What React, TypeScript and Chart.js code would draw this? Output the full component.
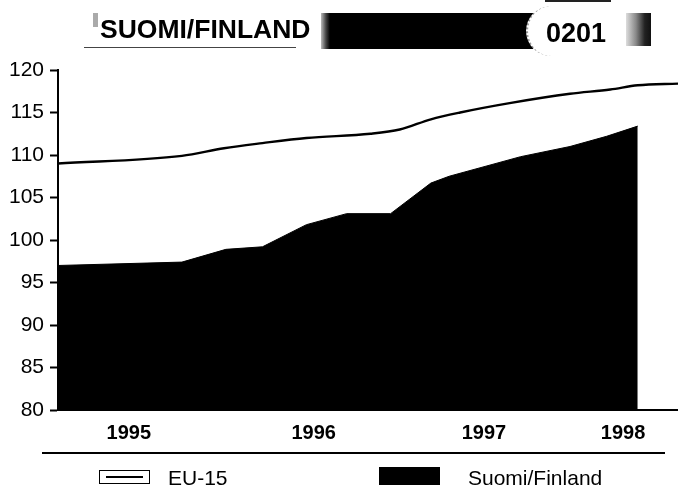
import React, { useEffect, useRef } from "react";
import { Chart, registerables } from "chart.js";

Chart.register(...registerables);

// ---- Data ----
const TITLE = "SUOMI/FINLAND";
const CODE = "0201";
const YEAR_LABELS = ["1995", "1996", "1997", "1998"];
const YEAR_LABEL_POS = [1995.47, 1996.48, 1997.41, 1998.17];
const X_MIN = 1995.083;
const X_MAX = 1998.47;
const Y_MIN = 80;
const Y_MAX = 120;
const Y_STEP = 5;

const FIN_T = [1995.08, 1995.76, 1996.0, 1996.2, 1996.44, 1996.66, 1996.9, 1997.12, 1997.22, 1997.61, 1997.88, 1998.08, 1998.25];
const FIN_V = [97.0, 97.4, 98.9, 99.2, 101.8, 103.1, 103.1, 106.7, 107.5, 109.8, 111.0, 112.2, 113.4];

const EU_T = [1995.08, 1995.76, 1995.99, 1996.2, 1996.44, 1996.79, 1996.95, 1997.12, 1997.28, 1997.55, 1997.88, 1998.1, 1998.25, 1998.47];
const EU_V = [109.0, 109.9, 110.8, 111.4, 112.0, 112.5, 113.0, 114.2, 115.0, 116.1, 117.2, 117.7, 118.2, 118.4];

const SERIES_NAMES = ["EU-15", "Suomi/Finland"];

const FONT = "'Liberation Sans', Arial, Helvetica, sans-serif";

export default function App() {
  const canvasRef = useRef<HTMLCanvasElement | null>(null);

  useEffect(() => {
    document.body.style.margin = "0";
    const canvas = canvasRef.current;
    if (!canvas) return;
    const chart = new Chart(canvas, {
      type: "line",
      data: {
        datasets: [
          {
            label: SERIES_NAMES[0],
            data: EU_T.map((t, i) => ({ x: t, y: EU_V[i] })),
            borderColor: "#000",
            borderWidth: 2.4,
            fill: false,
            pointRadius: 0,
            cubicInterpolationMode: "monotone",
          },
          {
            label: SERIES_NAMES[1],
            data: FIN_T.map((t, i) => ({ x: t, y: FIN_V[i] })),
            borderColor: "#000",
            backgroundColor: "#000",
            borderWidth: 1,
            fill: "start",
            pointRadius: 0,
            tension: 0,
          },
        ],
      },
      options: {
        responsive: false,
        animation: false,
        devicePixelRatio: 1,
        layout: { padding: { top: 70, right: 0, bottom: 43, left: 0 } },
        plugins: {
          legend: { display: false },
          title: { display: false },
          tooltip: { enabled: false },
        },
        scales: {
          x: {
            type: "linear",
            min: X_MIN,
            max: X_MAX,
            afterFit: (scale: any) => {
              scale.height = 40;
            },
            afterBuildTicks: (scale: any) => {
              scale.ticks = YEAR_LABEL_POS.map((v) => ({ value: v }));
            },
            grid: { display: false, drawTicks: false },
            border: { display: true, color: "#000", width: 2 },
            ticks: {
              autoSkip: false,
              maxRotation: 0,
              padding: 11,
              color: "#000",
              font: { family: FONT, size: 20, weight: "bold" },
              callback: (_v: any, i: number) => YEAR_LABELS[i],
            },
          },
          y: {
            min: Y_MIN,
            max: Y_MAX,
            afterFit: (scale: any) => {
              scale.width = 58;
            },
            grid: {
              display: true,
              drawOnChartArea: false,
              drawTicks: true,
              tickLength: 8,
              tickWidth: 2,
              tickColor: "#000",
            },
            border: { display: true, color: "#000", width: 2 },
            ticks: {
              stepSize: Y_STEP,
              padding: 6,
              color: "#000",
              font: { family: FONT, size: 21 },
            },
          },
        },
      },
    });
    return () => chart.destroy();
  }, []);

  const abs = (s: React.CSSProperties): React.CSSProperties => ({ position: "absolute", ...s });

  return (
    <div style={{ position: "relative", width: 678, height: 493, overflow: "hidden", background: "#fff", fontFamily: FONT }}>
      <canvas ref={canvasRef} width={678} height={493} style={abs({ left: 0, top: 0, width: 678, height: 493 })} />
      {/* header */}
      <div style={abs({ left: 93, top: 13, width: 5, height: 14, background: "#aaa" })} />
      <div style={abs({ left: 84, top: 47, width: 212, height: 1, background: "#444" })} />
      <div style={abs({ left: 100, top: 16, fontSize: 26.5, lineHeight: "26.5px", fontWeight: "bold", color: "#000", whiteSpace: "nowrap" })}>{TITLE}</div>
      <div style={abs({ left: 321, top: 13, width: 214, height: 36, background: "linear-gradient(to right, #bbb 0px, #444 5px, #000 9px)" })} />
      <div style={abs({ left: 526, top: 6, width: 60, height: 50, background: "#fff", borderRadius: "25px 0 0 25px", borderLeft: "2px dotted #999", boxSizing: "border-box" })} />
      <div style={abs({ left: 545, top: 0, width: 66, height: 2, background: "#222" })} />
      <div style={abs({ left: 546, top: 20, fontSize: 27, lineHeight: "27px", fontWeight: "bold", color: "#000" })}>{CODE}</div>
      <div style={abs({ left: 626, top: 13, width: 25, height: 33, background: "linear-gradient(to right, #ddd, #888 40%, #222 75%, #111)" })} />
      {/* separator */}
      <div style={abs({ left: 42, top: 452, width: 623, height: 2, background: "#000" })} />
      {/* legend */}
      <div style={abs({ left: 99, top: 470, width: 51, height: 14, border: "1.5px solid #000", boxSizing: "border-box", background: "#fff" })}>
        <div style={abs({ left: 6, right: 6, top: 4.5, height: 2, background: "#000" })} />
      </div>
      <div style={abs({ left: 168, top: 467, fontSize: 21, lineHeight: "21px", color: "#000" })}>{SERIES_NAMES[0]}</div>
      <div style={abs({ left: 379, top: 467, width: 61, height: 18, background: "#000" })} />
      <div style={abs({ left: 468, top: 467, fontSize: 21, lineHeight: "21px", color: "#000", whiteSpace: "nowrap" })}>{SERIES_NAMES[1]}</div>
    </div>
  );
}
